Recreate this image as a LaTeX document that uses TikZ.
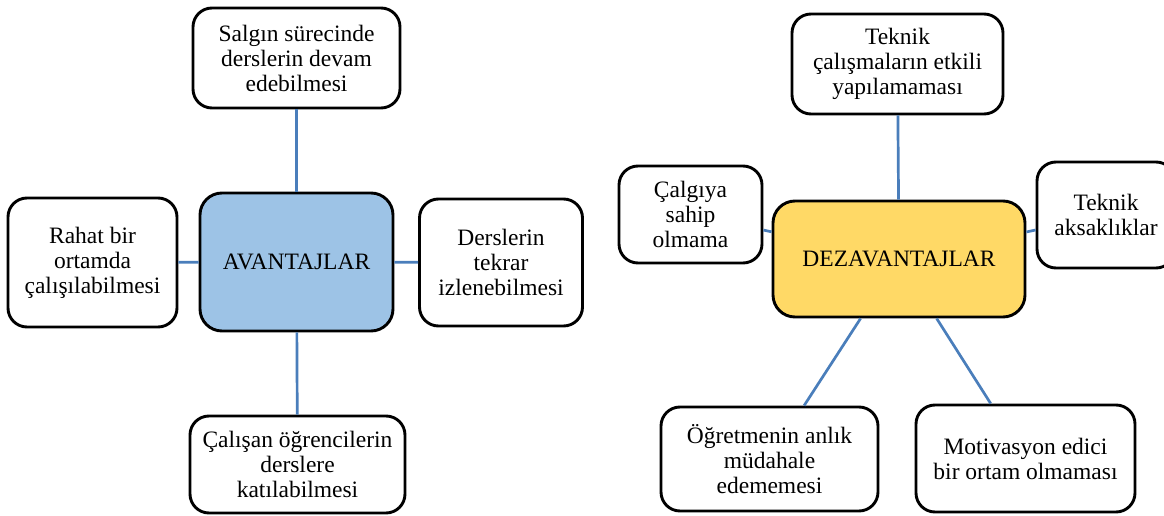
\documentclass[tikz,border=0pt]{standalone}
\usepackage{fontspec}
\setmainfont{Liberation Serif}
\definecolor{hubblue}{HTML}{9DC3E6}
\definecolor{hubgold}{HTML}{FFD966}
\definecolor{linkblue}{HTML}{4A7EBB}
\begin{document}
\begin{tikzpicture}[x=1pt,y=-1pt,
  box/.style={draw=black, line width=2.9pt, rounded corners=19pt, fill=white,
    align=center, inner sep=0pt, font=\fontsize{23.5}{25}\selectfont},
  hub/.style={box, rounded corners=22pt},
  link/.style={draw=linkblue, line width=2.7pt}]
\useasboundingbox (0,0) rectangle (1164,516);
\clip (0,0) rectangle (1164,516);
% ---- left diagram ----
\node[hub, fill=hubblue, minimum width=193pt, minimum height=138pt] (lc) at (296.5,262) {AVANTAJLAR};
\node[box, minimum width=207pt, minimum height=100pt] (lt) at (296.5,58) {Salgın sürecinde\\derslerin devam\\edebilmesi};
\node[box, minimum width=169pt, minimum height=129pt] (ll) at (92.5,262.5) {Rahat bir\\ortamda\\çalışılabilmesi};
\node[box, minimum width=163pt, minimum height=127pt] (lr) at (501,262.5) {Derslerin\\tekrar\\izlenebilmesi};
\node[box, minimum width=215pt, minimum height=97pt] (lb) at (297.5,464.5) {Çalışan öğrencilerin\\derslere\\katılabilmesi};
\draw[link] (lt) -- (lc);
\draw[link] (ll) -- (lc);
\draw[link] (lr) -- (lc);
\draw[link] (lb) -- (lc);
% ---- right diagram ----
\node[hub, fill=hubgold, minimum width=252pt, minimum height=116pt] (rc) at (899,259) {DEZAVANTAJLAR};
\node[box, minimum width=211pt, minimum height=100pt] (rt) at (897.5,64) {Teknik\\çalışmaların etkili\\yapılamaması};
\node[box, minimum width=143pt, minimum height=97pt] (rl) at (690.5,214.5) {Çalgıya\\sahip\\olmama};
\node[box, minimum width=138pt, minimum height=106pt] (rr) at (1106,215) {Teknik\\aksaklıklar};
\node[box, minimum width=217pt, minimum height=104pt] (rbl) at (769.5,459) {Öğretmenin anlık\\müdahale\\edememesi};
\node[box, minimum width=219pt, minimum height=107pt] (rbr) at (1025.5,458.5) {Motivasyon edici\\bir ortam olmaması};
\draw[link] (rt) -- (rc);
\draw[link] (rl) -- (rc);
\draw[link] (rr) -- (rc);
\draw[link] (rbl) -- (rc);
\draw[link] (rbr) -- (rc);
\end{tikzpicture}
\end{document}
